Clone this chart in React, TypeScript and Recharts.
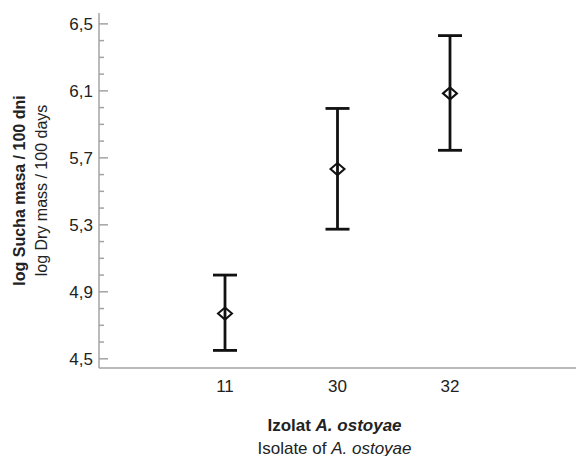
import React from 'react';
import { LineChart, Line, XAxis, YAxis, ErrorBar } from 'recharts';

const isolates = ['11', '30', '32'];
const means = [4.77, 5.633, 6.085];
const lower = [4.55, 5.274, 5.745];
const upper = [5.0, 5.995, 6.43];

const majorTicks = [4.5, 4.9, 5.3, 5.7, 6.1, 6.5];
const allTicks = [
  4.5, 4.6, 4.7, 4.8, 4.9, 5.0, 5.1, 5.2, 5.3, 5.4, 5.5,
  5.6, 5.7, 5.8, 5.9, 6.0, 6.1, 6.2, 6.3, 6.4, 6.5,
];

const data = isolates.map((name, i) => ({
  isolate: name,
  mean: means[i],
  err: [means[i] - lower[i], upper[i] - means[i]],
}));

const FONT = '"Liberation Sans", Arial, sans-serif';
const FRAME = '#a3a3a3';

const isMajor = (v: number) => majorTicks.some(t => Math.abs(t - v) < 1e-6);

// left axis: label outside, tick mark pointing into the plot
const LeftTick = (props: any) => {
  const { x, y, payload } = props;
  const axisX = x + 6;
  const major = isMajor(payload.value);
  return (
    <g>
      <line x1={axisX} y1={y} x2={axisX + (major ? 9 : 5)} y2={y} stroke={FRAME} strokeWidth={1.5} />
      {major && (
        <text x={x} y={y} dy="0.355em" textAnchor="end" fontSize={17} fill="#222" fontFamily={FONT}>
          {payload.value.toFixed(1).replace('.', ',')}
        </text>
      )}
    </g>
  );
};

const RightTick = (props: any) => {
  const { x, y, payload } = props;
  const major = isMajor(payload.value);
  return <line x1={x - (major ? 9 : 5)} y1={y} x2={x} y2={y} stroke={FRAME} strokeWidth={1.5} />;
};

const Diamond = (props: any) => {
  const { cx, cy } = props;
  if (cx == null || cy == null) return null;
  return (
    <polygon
      points={`${cx - 7},${cy} ${cx},${cy - 6} ${cx + 7},${cy} ${cx},${cy + 6}`}
      fill="none"
      stroke="#111"
      strokeWidth={2}
    />
  );
};

const YTitle = (props: any) => {
  const { viewBox } = props;
  const cy = viewBox.y + viewBox.height / 2;
  return (
    <g fontFamily={FONT} fontSize={16} fill="#222">
      <text x={19} y={cy} transform={`rotate(-90 19 ${cy})`} textAnchor="middle" dominantBaseline="central" fontWeight="bold">
        log Sucha masa / 100 dni
      </text>
      <text x={41} y={cy} transform={`rotate(-90 41 ${cy})`} textAnchor="middle" dominantBaseline="central">
        log Dry mass / 100 days
      </text>
    </g>
  );
};

const XTitle = (props: any) => {
  const { viewBox } = props;
  const cx = viewBox.x + viewBox.width / 2 - 3;
  return (
    <g fontFamily={FONT} fontSize={17} fill="#222">
      <text x={cx} y={425} textAnchor="middle" dominantBaseline="central" fontWeight="bold">
        Izolat <tspan fontStyle="italic">A. ostoyae</tspan>
      </text>
      <text x={cx} y={448} textAnchor="middle" dominantBaseline="central">
        Isolate of <tspan fontStyle="italic">A. ostoyae</tspan>
      </text>
    </g>
  );
};

export default function App() {
  return (
    <div style={{ position: 'absolute', left: 0, top: 0, background: '#fff' }}>
      <LineChart width={576} height={456} data={data} margin={{ top: 13, right: 0, bottom: 0, left: 0 }}>
        <XAxis
          dataKey="isolate"
          height={88}
          padding={{ left: 126, right: 126 }}
          axisLine={{ stroke: FRAME, strokeWidth: 1.5 }}
          tickLine={false}
          tickSize={0}
          tickMargin={12}
          tick={{ fontSize: 17, fill: '#222', fontFamily: FONT }}
          label={{ content: XTitle }}
        />
        <XAxis
          xAxisId="top"
          orientation="top"
          dataKey="isolate"
          height={0}
          tick={false}
          tickLine={false}
          axisLine={{ stroke: FRAME, strokeWidth: 1.5 }}
        />
        <YAxis
          type="number"
          width={99}
          domain={[4.445, 6.565]}
          allowDataOverflow
          ticks={allTicks}
          interval={0}
          tickSize={0}
          tickMargin={6}
          tickLine={false}
          axisLine={{ stroke: FRAME, strokeWidth: 1.5 }}
          tick={<LeftTick />}
          label={{ content: YTitle }}
        />
        <YAxis
          yAxisId="right"
          orientation="right"
          type="number"
          width={0}
          domain={[4.445, 6.565]}
          allowDataOverflow
          ticks={allTicks}
          interval={0}
          tickSize={0}
          tickMargin={0}
          tickLine={false}
          axisLine={{ stroke: FRAME, strokeWidth: 1.5 }}
          tick={<RightTick />}
        />
        <Line
          dataKey="mean"
          stroke="none"
          dot={<Diamond />}
          activeDot={false}
          isAnimationActive={false}
        >
          <ErrorBar dataKey="err" width={12} stroke="#111" strokeWidth={2.8} direction="y" />
        </Line>
      </LineChart>
    </div>
  );
}
